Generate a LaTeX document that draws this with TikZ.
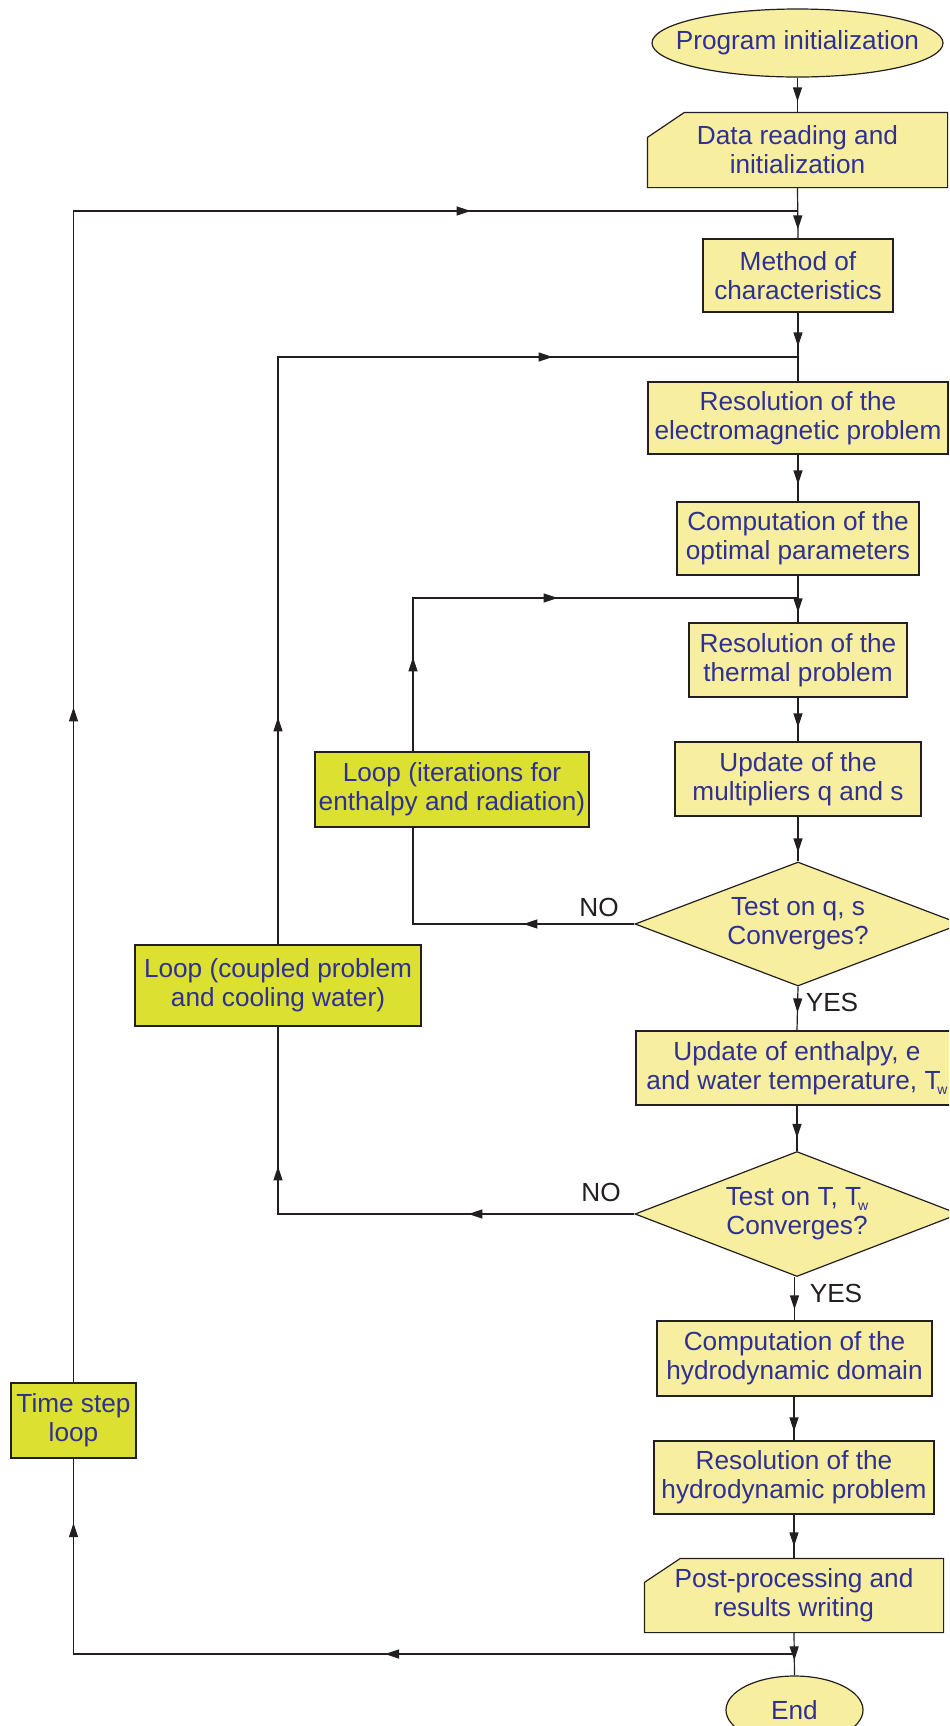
\documentclass[tikz,border=0pt]{standalone}
\usepackage{fontspec}
\setmainfont{Liberation Sans}
\usetikzlibrary{shapes.geometric,arrows.meta,decorations.markings,calc}
\definecolor{boxfill}{RGB}{248,238,160}
\definecolor{loopfill}{RGB}{220,224,48}
\definecolor{txtblue}{RGB}{46,49,146}
\definecolor{linecol}{RGB}{35,31,32}
\pgfdeclarelayer{bg}
\pgfsetlayers{bg,main}
\newcommand{\Tw}{T\kern-0.12em\raisebox{-0.18em}{\fontsize{7pt}{7pt}\selectfont w}}
\tikzset{
  base/.style={draw=linecol, line width=0.6pt, text=txtblue, align=center, inner sep=0pt,
    font=\fontsize{13.1pt}{14.5pt}\selectfont},
  proc/.style={base, rectangle, fill=boxfill},
  loopbox/.style={base, rectangle, fill=loopfill},
  term/.style={base, rectangle, draw=none},
  decision/.style={base, diamond, aspect=2.63, fill=boxfill},
  iobox/.style={base, rectangle, draw=none},
  lbl/.style={text=linecol, inner sep=0pt, font=\fontsize{13.1pt}{14.5pt}\selectfont},
  conn/.style={draw=linecol, line width=0.6pt},
  outline/.style={draw=linecol, line width=0.6pt, fill=boxfill},
  arrowsat/.style={postaction={decorate, decoration={markings,
      mark=at position #1 with {\arrow{Triangle[length=7pt,width=4.5pt]}}}}},
}
\begin{document}
\begin{tikzpicture}[x=0.5pt,y=-0.5pt]
\path[use as bounding box, clip] (0,0) rectangle (949,1726);

% main column
\node[term, minimum width=145.5pt, minimum height=34pt] (init) at (797.5,43) {Program initialization};
\node[iobox, minimum width=149.5pt, minimum height=37pt] (data) at (797.5,150) {Data reading and\\initialization};
\node[proc, minimum width=95pt, minimum height=36.5pt] (method) at (798,275.5) {Method of\\characteristics};
\node[proc, minimum width=150pt, minimum height=36pt] (em) at (798,418) {Resolution of the\\electromagnetic problem};
\node[proc, minimum width=121pt, minimum height=36.5pt] (opt) at (798,538.5) {Computation of the\\optimal parameters};
\node[proc, minimum width=109pt, minimum height=37pt] (thermal) at (798,660) {Resolution of the\\thermal problem};
\node[proc, minimum width=123pt, minimum height=37pt] (mult) at (798,779) {Update of the\\multipliers q and s};
\node[decision, minimum width=163pt, minimum height=62pt] (d1) at (798,924) {Test on q, s\\Converges?};
\node[proc, minimum width=161pt, minimum height=37pt] (enth) at (797,1068) {Update of enthalpy, e\\and water temperature, \Tw};
\node[decision, minimum width=162pt, minimum height=62.5pt] (d2) at (797,1214) {Test on T, \Tw\\Converges?};
\node[proc, minimum width=137.5pt, minimum height=37.5pt] (hdom) at (794.5,1358.5) {Computation of the\\hydrodynamic domain};
\node[proc, minimum width=140pt, minimum height=36.5pt] (hprob) at (794,1477.5) {Resolution of the\\hydrodynamic problem};
\node[iobox, minimum width=149pt, minimum height=36.5pt] (post) at (794,1595.5) {Post-processing and\\results writing};
\node[term, minimum width=68.5pt, minimum height=34pt] (end) at (794.5,1710) {End};

% loop boxes
\node[loopbox, minimum width=62.5pt, minimum height=37.5pt] (ts) at (73.5,1420.5) {Time step\\loop};
\node[loopbox, minimum width=143pt, minimum height=40.5pt] (coupled) at (278,985.5) {Loop (coupled problem\\and cooling water)};
\node[loopbox, minimum width=137pt, minimum height=37.5pt] (iter) at (452,789.5) {Loop (iterations for\\enthalpy and radiation)};

% outlines of terminals and cut-corner input/output boxes
\begin{pgfonlayer}{bg}
\draw[outline] (init.center) ellipse [x radius=72.75pt, y radius=17pt];
\draw[outline] (end.center) ellipse [x radius=34.25pt, y radius=17pt];
\draw[outline] ($(data.north west)+(37,0)$) -- (data.north east) -- (data.south east)
  -- (data.south west) -- ($(data.north west)+(0,25)$) -- cycle;
\draw[outline] ($(post.north west)+(36,0)$) -- (post.north east) -- (post.south east)
  -- (post.south west) -- ($(post.north west)+(0,24)$) -- cycle;
\end{pgfonlayer}

% labels
\node[lbl] (no1) at (599,907) {NO};
\node[lbl] (no2) at (601,1192) {NO};
\node[lbl] (yes1) at (832,1002) {YES};
\node[lbl] (yes2) at (836,1293) {YES};

% junctions
\coordinate (jtop) at (798,211);
\coordinate (jc) at (798,357);
\coordinate (ji) at (798,598);
\coordinate (jbot) at (794,1654);
\coordinate (ibot) at (413,924);
\coordinate (itop) at (413,598);

% main axis connectors
\draw[conn, arrowsat=-5.5pt] (init.south) -- (data.north);
\draw[conn, arrowsat=-4.5pt] (data.south) -- (method.north);
\draw[conn, arrowsat=-17.5pt] (method.south) -- (em.north);
\draw[conn, arrowsat=-8.5pt] (em.south) -- (opt.north);
\draw[conn, arrowsat=-5pt] (opt.south) -- (thermal.north);
\draw[conn, arrowsat=-7pt] (thermal.south) -- (mult.north);
\draw[conn, arrowsat=-4.5pt] (mult.south) -- (d1.north);
\draw[conn, arrowsat=-9pt] (d1.south) -- (enth.north);
\draw[conn, arrowsat=-6.5pt] (enth.south) -- (d2.north);
\draw[conn, arrowsat=-5.5pt] (hdom.north |- d2.south) -- (hdom.north);
\draw[conn, arrowsat=-4.5pt] (hprob.north |- hdom.south) -- (hprob.north);
\draw[conn, arrowsat=-6pt] (hprob.south) -- (post.north);
\draw[conn, arrowsat=-7.5pt] (post.south) -- (end.north);

% time step loop
\draw[conn, arrowsat=204.5pt, arrowsat=425.75pt] (jbot) -- (jbot -| ts.south) -- (ts.south);
\draw[conn, arrowsat=337.5pt, arrowsat=784.25pt] (ts.north) -- (ts.north |- jtop) -- (jtop);

% coupled loop
\draw[conn, arrowsat=83pt, arrowsat=202pt] (d2.west) -- (d2.west -| coupled.south) -- (coupled.south);
\draw[conn, arrowsat=113.5pt, arrowsat=431pt] (coupled.north) -- (coupled.north |- jc) -- (jc);

% iteration loop
\draw[conn, arrowsat=55.5pt] (d1.west) -- (ibot) -- (ibot |- iter.south);
\draw[conn, arrowsat=47pt, arrowsat=149pt] (itop |- iter.north) -- (itop) -- (ji);
\end{tikzpicture}
\end{document}
